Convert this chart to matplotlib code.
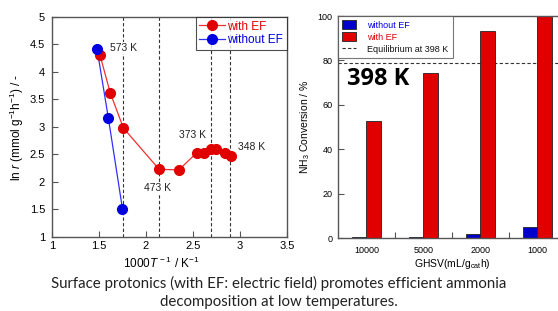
import numpy as np
import matplotlib
matplotlib.use("Agg")
import matplotlib.pyplot as plt
from matplotlib.patches import Patch
from matplotlib.lines import Line2D

plt.rcParams['font.family'] = ['Liberation Sans', 'DejaVu Sans']
plt.rcParams['mathtext.fontset'] = 'custom'
plt.rcParams['mathtext.rm'] = 'Liberation Sans'
plt.rcParams['mathtext.it'] = 'Liberation Sans:italic'
plt.rcParams['mathtext.default'] = 'regular'

# ---- left panel data: Arrhenius plot ----
x_ef = [1.51, 1.62, 1.76, 2.14, 2.35, 2.54, 2.62, 2.69, 2.75, 2.84, 2.90]
y_ef = [4.31, 3.62, 2.98, 2.23, 2.22, 2.53, 2.52, 2.60, 2.60, 2.53, 2.47]
x_noef = [1.48, 1.60, 1.75]
y_noef = [4.41, 3.16, 1.51]
temp_lines = [1.755, 2.14, 2.69, 2.89]
temp_labels = ["573 K", "473 K", "373 K", "348 K"]
temp_label_pos = [(1.76, 4.44), (2.12, 1.89), (2.49, 2.85), (3.12, 2.64)]

# ---- right panel data: conversion vs GHSV ----
ghsv = ["10000", "5000", "2000", "1000"]
conv_noef = [0.3, 0.5, 1.7, 5.0]
conv_ef = [52.7, 74.3, 93.2, 100.0]
equilibrium = 78.8

RED = '#e00000'
BLUE = '#0000e0'
SPINE = '#555555'

fig = plt.figure(figsize=(5.58, 3.11), dpi=100)

# ===============================
# LEFT PANEL
# ===============================
ax1 = fig.add_axes([0.0932, 0.238, 0.421, 0.7074])
for xv in temp_lines:
    ax1.axvline(xv, color='#333333', lw=0.8, ls=(0, (3, 2)), zorder=1)
ax1.plot(x_ef, y_ef, '-', color='#f03030', lw=0.9, zorder=3)
ax1.plot(x_ef, y_ef, 'o', color=RED, ms=7, mec=RED, zorder=4)
ax1.plot(x_noef, y_noef, '-', color='#3030ff', lw=0.9, zorder=3)
ax1.plot(x_noef, y_noef, 'o', color=BLUE, ms=7, mec=BLUE, zorder=4)
for lab, (tx, ty) in zip(temp_labels, temp_label_pos):
    ax1.text(tx, ty, lab, fontsize=7.5, color='#222222', ha='center', va='center',
             bbox=dict(facecolor='white', edgecolor='none', pad=0.5), zorder=2)
ax1.set_xlim(1, 3.5)
ax1.set_ylim(1, 5)
ax1.set_xticks([1, 1.5, 2, 2.5, 3, 3.5])
ax1.set_xticklabels(['1', '1.5', '2', '2.5', '3', '3.5'])
ax1.set_yticks([1, 1.5, 2, 2.5, 3, 3.5, 4, 4.5, 5])
ax1.set_yticklabels(['1', '1.5', '2', '2.5', '3', '3.5', '4', '4.5', '5'])
ax1.tick_params(direction='in', length=4, width=0.8, labelsize=8, color=SPINE)
ax1.tick_params(axis='y', pad=5)
ax1.tick_params(axis='x', pad=3)
for s in ax1.spines.values():
    s.set_color(SPINE)
    s.set_linewidth(1.0)
ax1.set_xlabel(r'1000$\mathit{T}^{\,-1}$ / K$^{-1}$', fontsize=8.5, labelpad=3)
ax1.xaxis.set_label_coords(0.464, -0.085)
ax1.set_ylabel(r'ln $\mathit{r}$ (mmol g$^{-1}$h$^{-1}$) / -', fontsize=8.5, labelpad=3)
leg_handles = [Line2D([], [], color='#f03030', lw=0.9, marker='o', ms=7, mfc=RED, mec=RED),
               Line2D([], [], color='#3030ff', lw=0.9, marker='o', ms=7, mfc=BLUE, mec=BLUE)]
leg1 = ax1.legend(leg_handles, ['with EF', 'without EF'], loc='upper right', fontsize=8.5,
                  frameon=True, fancybox=False, edgecolor='#222222', borderaxespad=0,
                  handlelength=2.2, handletextpad=0.2, borderpad=0.3, labelspacing=0.15)
leg1.get_frame().set_linewidth(0.8)
for t, c in zip(leg1.get_texts(), [RED, BLUE]):
    t.set_color(c)

# ===============================
# RIGHT PANEL
# ===============================
ax2 = fig.add_axes([0.6057, 0.2347, 0.4086, 0.7138])
pos = np.arange(len(ghsv))
w = 0.26
ax2.bar(pos - w / 2, conv_noef, w, color='#0000cc', edgecolor='#222222', lw=0.6, zorder=2)
ax2.bar(pos + w / 2, conv_ef, w, color=RED, edgecolor='#222222', lw=0.6, zorder=2)
ax2.axhline(equilibrium, color='#333333', lw=0.8, ls=(0, (3, 2)), zorder=1)
ax2.set_xlim(-0.5, 3.5)
ax2.set_ylim(0, 100)
ax2.set_xticks(pos)
ax2.set_xticklabels(ghsv)
ax2.set_xticks(pos[:-1] + 0.5, minor=True)
ax2.set_yticks([0, 20, 40, 60, 80, 100])
ax2.tick_params(axis='x', which='major', length=0, labelsize=6.5, pad=6)
ax2.tick_params(axis='x', which='minor', direction='in', length=4, width=0.8, color=SPINE)
ax2.tick_params(axis='y', direction='in', length=4, width=0.8, labelsize=6.5, pad=4, color=SPINE)
for s in ax2.spines.values():
    s.set_color(SPINE)
    s.set_linewidth(1.0)
ax2.set_xlabel(r'GHSV(mL/g$_{cat}$h)', fontsize=7.5)
ax2.xaxis.set_label_coords(0.5, -0.085)
ax2.set_ylabel(r'NH$_3$ Conversion / %', fontsize=7.5, labelpad=4)
ax2.text(0.04, 0.715, '398 K', transform=ax2.transAxes, fontsize=17, fontweight='bold',
         ha='left', va='center', family=['Open Sans', 'DejaVu Sans'])
handles = [Patch(facecolor='#0000cc', edgecolor='#222222', lw=0.6),
           Patch(facecolor=RED, edgecolor='#222222', lw=0.6),
           Line2D([], [], color='#333333', lw=0.8, ls=(0, (3, 2)))]
leg2 = ax2.legend(handles, ['without EF', 'with EF', 'Equilibrium at 398 K'],
                  loc='upper left', fontsize=6.5, frameon=True, fancybox=False,
                  edgecolor='#555555', borderaxespad=0, handlelength=1.6,
                  handleheight=1.2, handletextpad=1.2, borderpad=0.45, labelspacing=0.25)
leg2.get_frame().set_linewidth(0.8)
for t, c in zip(leg2.get_texts(), [BLUE, RED, '#111111']):
    t.set_color(c)

# ---- caption ----
fig.text(0.5, 0.074, 'Surface protonics (with EF: electric field) promotes efficient ammonia',
         ha='center', va='baseline', fontsize=10.8, color='#222222',
         family=['Lato', 'DejaVu Sans'])
fig.text(0.5, 0.016, 'decomposition at low temperatures.',
         ha='center', va='baseline', fontsize=10.8, color='#222222',
         family=['Lato', 'DejaVu Sans'])

fig.savefig('out.png', dpi=100)
